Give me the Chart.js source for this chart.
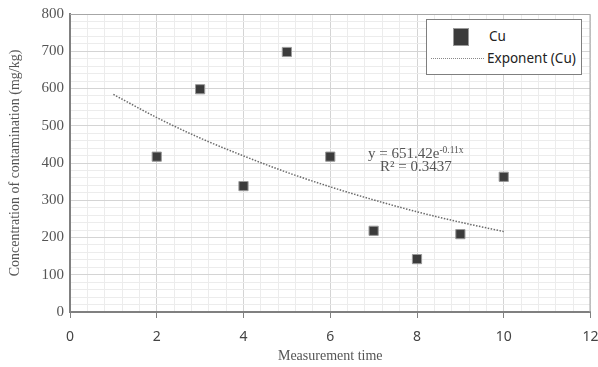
<!DOCTYPE html>
<html><head><meta charset="utf-8">
<script src="https://cdn.jsdelivr.net/npm/chart.js@4"></script>
<style>
html,body{margin:0;padding:0;background:#fff;}
#wrap{position:relative;width:598px;height:367px;}
canvas{position:absolute;left:0;top:0;}
.legend{position:absolute;left:426px;top:19px;width:154px;height:54px;border:1px solid #7f7f7f;background:#fff;font-family:"Noto Sans","DejaVu Sans",sans-serif;font-size:13.5px;color:#222;}
.lg-sq{position:absolute;left:26px;top:8px;width:16px;height:18px;background:#3b3b3b;border:1px solid #999;box-sizing:border-box;}
.lg-t1{position:absolute;left:62px;top:7px;line-height:18px;}
.lg-line{position:absolute;left:4px;top:38px;width:53px;border-top:1px dotted #888;}
.lg-t2{position:absolute;left:60px;top:29px;line-height:18px;}
.ann{position:absolute;font-family:"Liberation Serif","Times New Roman",serif;font-size:15px;color:#555;white-space:nowrap;line-height:17px;}
.ann sup{font-size:9.5px;vertical-align:5px;}
</style></head>
<body><div id="wrap"><canvas id="c" width="598" height="367"></canvas>
<div class="legend"><div class="lg-sq"></div><div class="lg-t1">Cu</div><div class="lg-line"></div><div class="lg-t2">Exponent (Cu)</div></div>
<div class="ann" style="left:368px;top:142px;">y = 651.42e<sup>-0.11x</sup></div>
<div class="ann" style="left:380px;top:158px;">R² = 0.3437</div>
</div>
<script>
const measurementTime = [2, 3, 4, 5, 6, 7, 8, 9, 10];
const cuValues = [417, 598, 338, 698, 417, 218, 142, 209, 363];
const trendX = [1, 2, 3, 4, 5, 6, 7, 8, 9, 10];
const trendValues = [584, 522, 467, 419, 375, 336, 301, 269, 241, 216];
const xTickLabels = [0, 2, 4, 6, 8, 10, 12];
const yTickLabels = [0, 100, 200, 300, 400, 500, 600, 700, 800];

const isMajor = (v, step) => Math.abs(v / step - Math.round(v / step)) < 1e-6;

const boxPlugin = {
  id: 'box',
  afterDraw(chart) {
    const {ctx, chartArea: a} = chart;
    ctx.save();
    ctx.strokeStyle = '#a6a6a6';
    ctx.lineWidth = 1;
    ctx.beginPath();
    ctx.moveTo(a.left, a.top + 0.5);
    ctx.lineTo(a.right - 0.5, a.top + 0.5);
    ctx.lineTo(a.right - 0.5, a.bottom);
    ctx.stroke();
    ctx.restore();
  }
};

new Chart(document.getElementById('c'), {
  type: 'scatter',
  data: {
    datasets: [
      {
        label: 'Cu',
        data: measurementTime.map((x, i) => ({x, y: cuValues[i]})),
        pointStyle: 'rect',
        pointRadius: 6.5,
        pointBackgroundColor: '#3b3b3b',
        pointBorderColor: '#9a9a9a',
        pointBorderWidth: 1,
        showLine: false,
        order: 1
      },
      {
        label: 'Exponent (Cu)',
        data: trendX.map((x, i) => ({x, y: trendValues[i]})),
        showLine: true,
        borderColor: '#6a6a6a',
        borderWidth: 1.5,
        borderDash: [1.5, 1.5],
        pointRadius: 0,
        cubicInterpolationMode: 'monotone',
        order: 2
      }
    ]
  },
  options: {
    responsive: false,
    animation: false,
    layout: {padding: {left: 0, right: 7, top: 14, bottom: 0}},
    plugins: {legend: {display: false}, tooltip: {enabled: false}},
    scales: {
      x: {
        type: 'linear', min: 0, max: 12,
        afterBuildTicks(s) { const t = []; for (let i = 0; i <= 30; i++) t.push({value: +(i * 0.4).toFixed(2)}); s.ticks = t; },
        afterFit(s) { s.height = 55; s.paddingLeft = 0; s.paddingRight = 0; },
        ticks: {
          autoSkip: false, maxRotation: 0, padding: 11,
          color: '#444',
          font: {family: '"Noto Sans","DejaVu Sans",sans-serif', size: 14},
          callback: v => (isMajor(v, 2) && xTickLabels.includes(Math.round(v))) ? String(Math.round(v)) : ''
        },
        grid: {
          color: c => isMajor(c.tick.value, 2) ? '#d4d4d4' : '#ececec',
          tickColor: c => isMajor(c.tick.value, 2) ? '#808080' : 'rgba(0,0,0,0)',
          tickLength: 6,
          lineWidth: 1
        },
        border: {color: '#808080', width: 2},
        title: {display: true, text: 'Measurement time', color: '#555', padding: {top: 0, bottom: 2},
          font: {family: '"Liberation Serif","Times New Roman",serif', size: 14}}
      },
      y: {
        type: 'linear', min: 0, max: 800,
        afterBuildTicks(s) { const t = []; for (let i = 0; i <= 40; i++) t.push({value: i * 20}); s.ticks = t; },
        afterFit(s) { s.width = 70; s.paddingTop = 0; s.paddingBottom = 0; },
        ticks: {
          autoSkip: false, padding: 6,
          color: '#555',
          font: {family: '"Liberation Serif","Times New Roman",serif', size: 15},
          callback: v => (isMajor(v, 100) && yTickLabels.includes(v)) ? String(v) : ''
        },
        grid: {
          color: c => isMajor(c.tick.value, 100) ? '#d4d4d4' : '#ececec',
          drawTicks: false,
          lineWidth: 1
        },
        border: {color: '#808080', width: 2},
        title: {display: true, text: 'Concentration of contamination (mg/kg)', color: '#555', padding: {top: 7, bottom: 0},
          font: {family: '"Liberation Serif","Times New Roman",serif', size: 14}}
      }
    }
  },
  plugins: [boxPlugin]
});
</script>
</body></html>
